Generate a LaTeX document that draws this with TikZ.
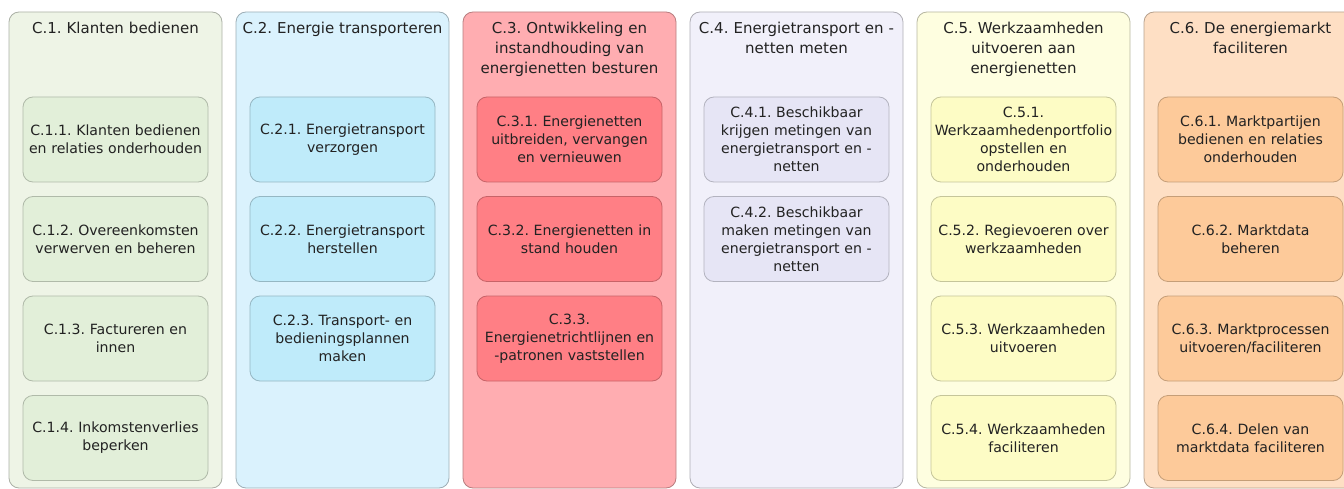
\documentclass[tikz,border=0pt]{standalone}
\usepackage{fontspec}
\setmainfont{DejaVu Sans}
\usepackage{tikz}
\usetikzlibrary{positioning}
\frenchspacing
\definecolor{textgray}{HTML}{222222}
\definecolor{klantlane}{HTML}{EEF4E6}
\definecolor{klantbox}{HTML}{E2EFD9}
\definecolor{transplane}{HTML}{DAF2FD}
\definecolor{transpbox}{HTML}{BFEBFA}
\definecolor{netlane}{HTML}{FFADB1}
\definecolor{netbox}{HTML}{FF7F85}
\definecolor{meetlane}{HTML}{F1F0FA}
\definecolor{meetbox}{HTML}{E6E5F5}
\definecolor{werklane}{HTML}{FEFEE0}
\definecolor{werkbox}{HTML}{FDFCC5}
\definecolor{marktlane}{HTML}{FEDFC4}
\definecolor{marktbox}{HTML}{FDCA9A}
\tikzset{
  lane/.style={rectangle, rounded corners=10pt, draw=#1!72!black, fill=#1, line width=0.8pt,
               minimum width=213pt, minimum height=476pt, inner sep=0pt, outer sep=0pt},
  lanehead/.style={text width=211pt, align=center, inner sep=0pt,
                   font=\fontsize{15}{20}\selectfont, text=textgray},
  proc/.style={rectangle, rounded corners=10pt, draw=#1!78!black, fill=#1, line width=0.8pt,
               minimum width=185pt, minimum height=85pt, text width=183pt, align=center,
               inner sep=0pt, outer sep=0pt, font=\fontsize{14.1}{18}\selectfont, text=textgray},
}
\begin{document}
\begin{tikzpicture}[x=1pt, y=-1pt]
  \path[use as bounding box, clip] (0,0) rectangle (1344,489);

  \node[lane=klantlane, anchor=north west] (c1) at (9,12) {};
  \node[lane=transplane, right=14pt of c1] (c2) {};
  \node[lane=netlane, right=14pt of c2] (c3) {};
  \node[lane=meetlane, right=14pt of c3] (c4) {};
  \node[lane=werklane, right=14pt of c4] (c5) {};
  \node[lane=marktlane, right=14pt of c5] (c6) {};

  \node[lanehead, below=10pt of c1.north] (h1) {C.1. Klanten bedienen};
  \node[lanehead, below=10pt of c2.north] (h2) {C.2. Energie transporteren};
  \node[lanehead, below=10pt of c3.north] (h3) {C.3. Ontwikkeling en\\instandhouding van\\energienetten besturen};
  \node[lanehead, below=10pt of c4.north] (h4) {C.4. Energietransport en -\\netten meten};
  \node[lanehead, below=10pt of c5.north] (h5) {C.5. Werkzaamheden\\uitvoeren aan\\energienetten};
  \node[lanehead, below=10pt of c6.north] (h6) {C.6. De energiemarkt\\faciliteren};

  \node[proc=klantbox, below=85pt of c1.north] (b11) {C.1.1. Klanten bedienen\\en relaties onderhouden};
  \node[proc=klantbox, below=14.5pt of b11] (b12) {C.1.2. Overeenkomsten\\verwerven en beheren};
  \node[proc=klantbox, below=14.5pt of b12] (b13) {C.1.3. Factureren en\\innen};
  \node[proc=klantbox, below=14.5pt of b13] (b14) {C.1.4. Inkomstenverlies\\beperken};

  \node[proc=transpbox, below=85pt of c2.north] (b21) {C.2.1. Energietransport\\verzorgen};
  \node[proc=transpbox, below=14.5pt of b21] (b22) {C.2.2. Energietransport\\herstellen};
  \node[proc=transpbox, below=14.5pt of b22] (b23) {C.2.3. Transport- en\\bedieningsplannen\\maken};

  \node[proc=netbox, below=85pt of c3.north] (b31) {C.3.1. Energienetten\\uitbreiden, vervangen\\en vernieuwen};
  \node[proc=netbox, below=14.5pt of b31] (b32) {C.3.2. Energienetten in\\stand houden};
  \node[proc=netbox, below=14.5pt of b32] (b33) {C.3.3.\\Energienetrichtlijnen en\\-patronen vaststellen};

  \node[proc=meetbox, below=85pt of c4.north] (b41) {C.4.1. Beschikbaar\\krijgen metingen van\\energietransport en -\\netten};
  \node[proc=meetbox, below=14.5pt of b41] (b42) {C.4.2. Beschikbaar\\maken metingen van\\energietransport en -\\netten};

  \node[proc=werkbox, below=85pt of c5.north] (b51) {C.5.1.\\Werkzaamhedenportfolio\\opstellen en\\onderhouden};
  \node[proc=werkbox, below=14.5pt of b51] (b52) {C.5.2. Regievoeren over\\werkzaamheden};
  \node[proc=werkbox, below=14.5pt of b52] (b53) {C.5.3. Werkzaamheden\\uitvoeren};
  \node[proc=werkbox, below=14.5pt of b53] (b54) {C.5.4. Werkzaamheden\\faciliteren};

  \node[proc=marktbox, below=85pt of c6.north] (b61) {C.6.1. Marktpartijen\\bedienen en relaties\\onderhouden};
  \node[proc=marktbox, below=14.5pt of b61] (b62) {C.6.2. Marktdata\\beheren};
  \node[proc=marktbox, below=14.5pt of b62] (b63) {C.6.3. Marktprocessen\\uitvoeren/faciliteren};
  \node[proc=marktbox, below=14.5pt of b63] (b64) {C.6.4. Delen van\\marktdata faciliteren};
\end{tikzpicture}
\end{document}
